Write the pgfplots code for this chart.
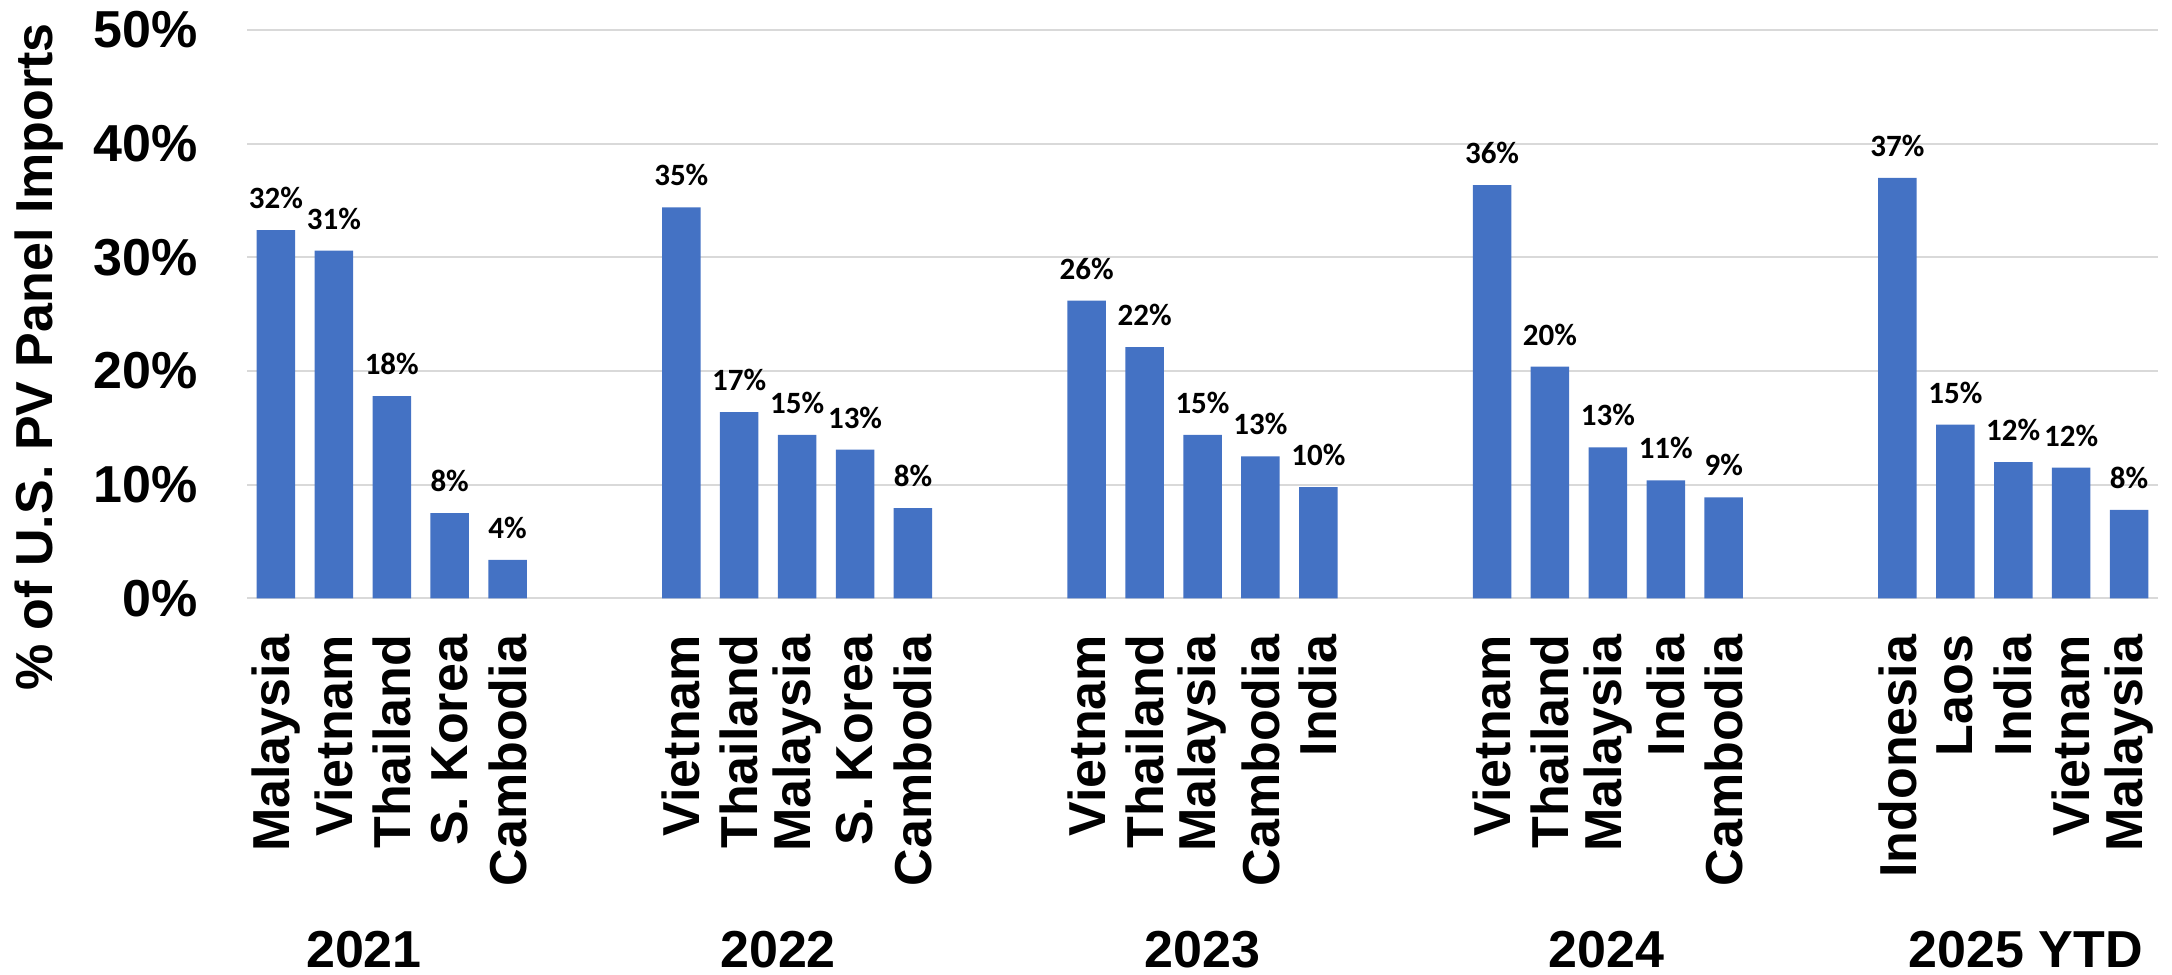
\documentclass[border=0pt]{standalone}
\usepackage{fontspec}
\setmainfont{Liberation Sans}
\newfontfamily\calib{Carlito}
\usepackage{pgfplots}
\pgfplotsset{compat=1.18}
\definecolor{barblue}{HTML}{4472C4}
\definecolor{gridgray}{HTML}{D9D9D9}
\begin{document}
\begin{tikzpicture}
\useasboundingbox (0,0) rectangle (1086pt,487pt);
\begin{axis}[
  at={(123.5pt,187.75pt)}, anchor=south west,
  scale only axis,
  width=955.5pt, height=284.25pt,
  xmin=-0.5, xmax=32.5, ymin=0, ymax=50,
  clip=false,
  ybar, bar width=19.25pt,
  axis line style={draw=none},
  major tick length=0pt,
  ymajorgrids,
  grid style={gridgray, line width=1pt},
  ytick={0,10,20,30,40,50},
  yticklabels={0\%,10\%,20\%,30\%,40\%,50\%},
  xtick={0,1,2,3,4,7,8,9,10,11,14,15,16,17,18,21,22,23,24,25,28,29,30,31,32},
  xticklabels={Malaysia,Vietnam,Thailand,S. Korea,Cambodia,Vietnam,Thailand,Malaysia,S. Korea,Cambodia,Vietnam,Thailand,Malaysia,Cambodia,India,Vietnam,Thailand,Malaysia,India,Cambodia,Indonesia,Laos,India,Vietnam,Malaysia},
  ticklabel style={font=\fontsize{26}{31}\selectfont\bfseries, inner sep=0pt},
  xticklabel style={rotate=90, anchor=east},
  yticklabel style={anchor=east},
  xticklabel shift=18pt,
  yticklabel shift=24.5pt,
  ylabel={\% of U.S. PV Panel Imports},
  ylabel style={at={(axis description cs:-0.1088,0.4248)}, anchor=center, font=\fontsize{26}{31}\selectfont\bfseries, inner sep=0pt},
  point meta=explicit symbolic,
  nodes near coords=\pgfplotspointmeta,
  every node near coord/.style={anchor=base, inner sep=0pt, yshift=10.75pt, font=\calib\bfseries\fontsize{15.5}{18}\selectfont, text=black},
]
\addplot[fill=barblue, draw=none] coordinates {
  (0,32.4)[32\%] (1,30.6)[31\%] (2,17.8)[18\%] (3,7.5)[8\%] (4,3.4)[4\%]
  (7,34.4)[35\%] (8,16.4)[17\%] (9,14.4)[15\%] (10,13.1)[13\%] (11,7.95)[8\%]
  (14,26.2)[26\%] (15,22.1)[22\%] (16,14.4)[15\%] (17,12.5)[13\%] (18,9.8)[10\%]
  (21,36.35)[36\%] (22,20.4)[20\%] (23,13.3)[13\%] (24,10.4)[11\%] (25,8.9)[9\%]
  (28,37.0)[37\%] (29,15.3)[15\%] (30,12.0)[12\%] (31,11.5)[12\%] (32,7.8)[8\%]
};
\begin{scope}[every node/.style={anchor=base, inner sep=0pt, font=\fontsize{26}{31}\selectfont\bfseries}]
\node[yshift=-184.25pt] at (axis cs:1.52,0) {2021};
\node[yshift=-184.25pt] at (axis cs:8.67,0) {2022};
\node[yshift=-184.25pt] at (axis cs:16.0,0) {2023};
\node[yshift=-184.25pt] at (axis cs:22.97,0) {2024};
\node[yshift=-184.25pt] at (axis cs:30.22,0) {2025 YTD};
\end{scope}
\end{axis}
\end{tikzpicture}
\end{document}
